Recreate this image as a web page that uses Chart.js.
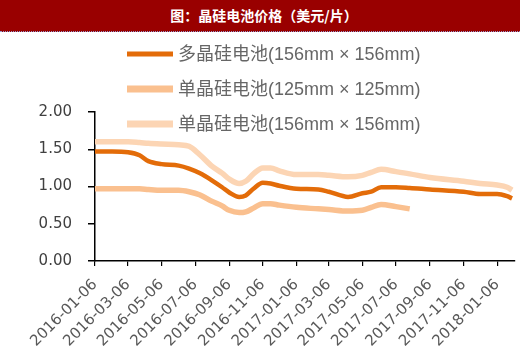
<!DOCTYPE html>
<html>
<head>
<meta charset="utf-8">
<script src="https://cdn.jsdelivr.net/npm/chart.js@4/dist/chart.umd.min.js"></script>
<style>
  html, body { margin: 0; padding: 0; background: #fff; }
  #wrap { position: relative; width: 520px; height: 356px; overflow: hidden; }
  #title { position: absolute; left: 0; top: 0; width: 520px; height: 32px; background: #990000;
    color: #fff; font: bold 14px 'Noto Sans CJK SC', sans-serif; line-height: 31px; text-align: center;
    box-sizing: border-box; padding-left: 8px; border-bottom: 1px dotted #9a9ad0; z-index: 2; }
  #c { position: absolute; left: 0; top: 0; }
</style>
</head>
<body>
<div id="wrap">
  <div id="title">图：晶硅电池价格（美元/片）</div>
  <canvas id="c" width="520" height="356"></canvas>
</div>
<script>
const seriesNames = ['多晶硅电池(156mm × 156mm)', '单晶硅电池(125mm × 125mm)', '单晶硅电池(156mm × 156mm)'];
const dates = ['2016-01-06','2016-02-06','2016-03-06','2016-03-27','2016-04-12','2016-05-06','2016-06-06','2016-06-25',
  '2016-07-14','2016-08-06','2016-08-24','2016-09-06','2016-09-24','2016-10-06','2016-10-20','2016-11-06','2016-11-20',
  '2016-12-06','2017-01-06','2017-02-15','2017-03-06','2017-04-10','2017-05-06','2017-05-22','2017-06-09','2017-07-06',
  '2017-07-31','2017-09-06','2017-11-06','2017-12-06','2018-01-06','2018-01-24','2018-02-02'];
const poly156 = [1.47,1.47,1.46,1.42,1.34,1.30,1.28,1.24,1.18,1.08,0.99,0.92,0.86,0.88,0.97,1.05,1.04,1.01,0.97,0.96,0.93,0.86,0.91,0.93,0.99,0.99,0.98,0.96,0.93,0.90,0.90,0.87,0.84];
const mono125 = [0.97,0.97,0.97,0.97,0.96,0.95,0.95,0.93,0.89,0.80,0.74,0.68,0.65,0.66,0.71,0.77,0.77,0.75,0.72,0.70,0.69,0.67,0.68,0.72,0.76,0.73,0.70,null,null,null,null,null,null];
const mono156 = [1.60,1.60,1.60,1.59,1.58,1.57,1.56,1.54,1.43,1.27,1.18,1.10,1.04,1.07,1.17,1.25,1.25,1.21,1.16,1.16,1.15,1.13,1.15,1.19,1.23,1.20,1.17,1.12,1.07,1.04,1.02,0.99,0.95];
const tickLabels = ['2016-01-06','2016-03-06','2016-05-06','2016-07-06','2016-09-06','2016-11-06','2017-01-06',
  '2017-03-06','2017-05-06','2017-07-06','2017-09-06','2017-11-06','2018-01-06'];
const yTicks = [0, 0.5, 1.0, 1.5, 2.0];
const xEndDate = '2018-02-06';

const DAY = 86400000;
const base = Date.parse(dates[0]);
const toDay = s => Math.round((Date.parse(s) - base) / DAY);
const pts = arr => dates.map((d, i) => ({ x: toDay(d), y: arr[i] }));
const tickDays = tickLabels.map(toDay);

const legendPlugin = {
  id: 'customLegend',
  afterDraw(chart) {
    const ctx = chart.ctx;
    const ys = [54, 89, 124];
    ctx.save();
    chart.data.datasets.forEach((ds, i) => {
      ctx.beginPath();
      ctx.strokeStyle = ds.borderColor;
      ctx.lineWidth = ds.legendWidth;
      ctx.lineCap = 'butt';
      ctx.moveTo(127, ys[i]);
      ctx.lineTo(173, ys[i]);
      ctx.stroke();
      ctx.fillStyle = '#666666';
      ctx.font = "18px 'Liberation Sans', 'Noto Sans CJK SC', sans-serif";
      ctx.textBaseline = 'middle';
      ctx.textAlign = 'left';
      ctx.fillText(ds.label, 178, ys[i] + 1);
    });
    ctx.restore();
  }
};

new Chart(document.getElementById('c'), {
  type: 'line',
  data: {
    datasets: [
      { label: seriesNames[0], data: pts(poly156), borderColor: '#E36C09', borderWidth: 4.5, legendWidth: 5 },
      { label: seriesNames[1], data: pts(mono125), borderColor: '#FAC08F', borderWidth: 5.5, legendWidth: 7 },
      { label: seriesNames[2], data: pts(mono156), borderColor: '#FCD5B4', borderWidth: 5.5, legendWidth: 7 }
    ].map(d => Object.assign(d, { pointRadius: 0, fill: false, tension: 0.25, cubicInterpolationMode: 'monotone', spanGaps: false }))
  },
  options: {
    responsive: false,
    animation: false,
    events: [],
    layout: { padding: { top: 112, right: 2, left: 0, bottom: 0 } },
    plugins: { legend: { display: false }, tooltip: { enabled: false }, title: { display: false } },
    scales: {
      x: {
        type: 'linear',
        min: 0,
        max: toDay(xEndDate),
        afterBuildTicks: s => { s.ticks = tickDays.map(v => ({ value: v })); },
        afterFit: s => { s.height = 95; },
        grid: { drawOnChartArea: false, drawTicks: true, tickLength: 5, color: '#000', lineWidth: 1.2 },
        border: { display: true, color: '#000', width: 1.5 },
        ticks: {
          autoSkip: false, minRotation: 45, maxRotation: 45, padding: 10,
          color: '#595959', font: { family: "'DejaVu Sans', sans-serif", size: 15 },
          callback: v => tickLabels[tickDays.indexOf(v)]
        }
      },
      y: {
        min: 0, max: 2,
        afterBuildTicks: s => { s.ticks = yTicks.map(v => ({ value: v })); },
        afterFit: s => { s.width = 95; },
        grid: { drawOnChartArea: false, drawTicks: true, tickLength: 7, color: '#000', lineWidth: 1.5 },
        border: { display: true, color: '#000', width: 1.5 },
        ticks: {
          padding: 16, color: '#404040', font: { family: "'DejaVu Sans', sans-serif", size: 15 },
          callback: v => v.toFixed(2)
        }
      }
    }
  },
  plugins: [legendPlugin]
});
</script>
</body>
</html>
